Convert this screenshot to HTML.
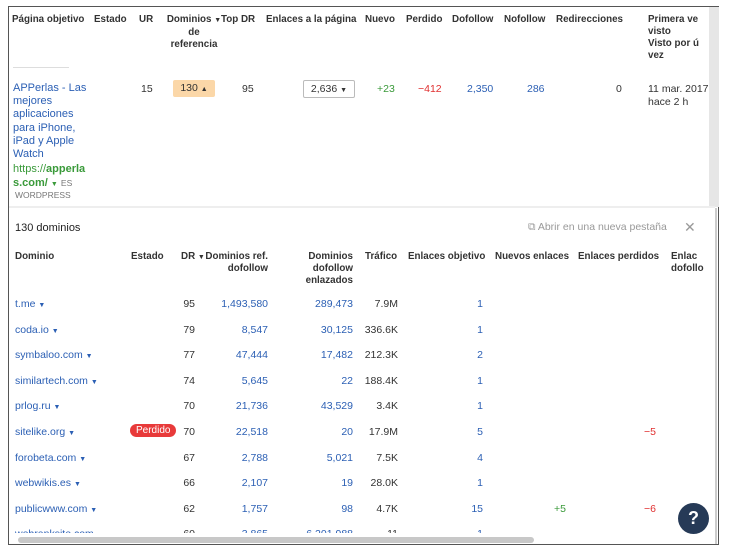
<!DOCTYPE html>
<html><head><meta charset="utf-8"><style>
body{margin:0;width:730px;height:554px;background:#fff;font-family:"Liberation Sans",sans-serif;font-size:10.5px;color:#333;position:relative;overflow:hidden}
.a{position:absolute;white-space:nowrap}
.b{font-weight:bold;color:#333;font-size:9.8px}
.r{text-align:right}
.c{text-align:center}
.bl{color:#2b5fb4}
.gr{color:#3a9a3a}
.rd{color:#e03030}
.car{font-size:7px}
</style></head><body>
<div class="a" style="left:8px;top:6px;width:711px;height:539px;border:1px solid #555;box-sizing:border-box"></div>
<div class="a" style="left:709px;top:7px;width:10px;height:200px;background:#e6e6e6"></div>
<div class="a b" style="left:12px;top:14px">Página objetivo</div>
<div class="a b" style="left:94px;top:14px">Estado</div>
<div class="a b" style="left:139px;top:14px">UR</div>
<div class="a b c" style="left:163px;top:14px;width:62px;line-height:12px">Dominios <span class="car">▼</span><br>de<br>referencia</div>
<div class="a b" style="left:221px;top:14px">Top DR</div>
<div class="a b" style="left:266px;top:14px">Enlaces a la página</div>
<div class="a b" style="left:365px;top:14px">Nuevo</div>
<div class="a b" style="left:406px;top:14px">Perdido</div>
<div class="a b" style="left:452px;top:14px">Dofollow</div>
<div class="a b" style="left:504px;top:14px">Nofollow</div>
<div class="a b" style="left:556px;top:14px">Redirecciones</div>
<div class="a b" style="left:648px;top:14px;line-height:12px">Primera ve<br>visto<br>Visto por ú<br>vez</div>
<div class="a" style="left:13px;top:67px;width:56px;height:1px;background:#ddd"></div>
<div class="a bl" style="left:13px;top:82px;line-height:13.2px;font-size:11px">APPerlas - Las<br>mejores<br>aplicaciones<br>para iPhone,<br>iPad y Apple<br>Watch</div>
<div class="a gr" style="left:13px;top:162px;line-height:14px;font-size:11px">https://<b>apperla</b><br><b>s.com/</b> <span class="car">▼</span> <span style="color:#777;font-size:8.5px">ES</span></div>
<div class="a" style="left:15px;top:190px;color:#777;font-size:8.5px">WORDPRESS</div>
<div class="a" style="left:141px;top:83px">15</div>
<div class="a" style="left:173px;top:80px;width:42px;height:17px;background:#fbd7a8;border-radius:2px;line-height:17px;text-align:center">130 <span class="car">▲</span></div>
<div class="a" style="left:242px;top:83px">95</div>
<div class="a" style="left:303px;top:80px;width:50px;height:16px;border:1px solid #bbb;border-radius:2px;line-height:16px;text-align:center">2,636 <span class="car">▼</span></div>
<div class="a gr" style="left:377px;top:83px">+23</div>
<div class="a rd" style="left:418px;top:83px">−412</div>
<div class="a bl" style="left:467px;top:83px">2,350</div>
<div class="a bl" style="left:527px;top:83px">286</div>
<div class="a" style="left:616px;top:83px">0</div>
<div class="a" style="left:648px;top:83px;line-height:13px">11 mar. 2017<br>hace 2 h</div>
<div class="a" style="left:9px;top:206px;width:706px;height:2px;background:#eee"></div>
<div class="a" style="left:715px;top:208px;width:2px;height:336px;background:#ccc"></div>
<div class="a" style="left:15px;top:222px;font-size:11px;color:#222">130 dominios</div>
<div class="a" style="left:528px;top:221px;color:#999;font-size:10.5px">⧉ Abrir en una nueva pestaña</div>
<div class="a" style="left:684px;top:219px;color:#999;font-size:14px">✕</div>
<div class="a b" style="left:15px;top:251px">Dominio</div>
<div class="a b" style="left:131px;top:251px">Estado</div>
<div class="a b" style="left:181px;top:251px">DR <span class="car">▼</span></div>
<div class="a b r" style="left:200px;top:251px;width:68px;line-height:12px">Dominios ref.<br>dofollow</div>
<div class="a b r" style="left:290px;top:251px;width:63px;line-height:12px">Dominios<br>dofollow<br>enlazados</div>
<div class="a b" style="left:365px;top:251px">Tráfico</div>
<div class="a b" style="left:408px;top:251px">Enlaces objetivo</div>
<div class="a b" style="left:495px;top:251px">Nuevos enlaces</div>
<div class="a b" style="left:578px;top:251px">Enlaces perdidos</div>
<div class="a b" style="left:671px;top:251px;line-height:12px">Enlac<br>dofollo</div>
<div id="rows"></div>
<script>
var d=[["t.me","",95,"1,493,580","289,473","7.9M",1,"",""],["coda.io","",79,"8,547","30,125","336.6K",1,"",""],["symbaloo.com","",77,"47,444","17,482","212.3K",2,"",""],["similartech.com","",74,"5,645","22","188.4K",1,"",""],["prlog.ru","",70,"21,736","43,529","3.4K",1,"",""],["sitelike.org","P",70,"22,518","20","17.9M",5,"","−5"],["forobeta.com","",67,"2,788","5,021","7.5K",4,"",""],["webwikis.es","",66,"2,107","19","28.0K",1,"",""],["publicwww.com","",62,"1,757","98","4.7K",15,"+5","−6"],["webranksite.com","",60,"3,865","6,201,988","11",1,"",""]];
var h="";
d.forEach(function(r,i){var t=298+i*25.6;
h+='<div class="a bl" style="left:15px;top:'+t+'px">'+r[0]+' <span class="car">▼</span></div>';
if(r[1])h+='<div class="a" style="left:130px;top:'+(t-2)+'px;background:#e83a3a;color:#fff;border-radius:8px;padding:1px 6px;font-size:10px">Perdido</div>';
h+='<div class="a r" style="left:170px;top:'+t+'px;width:25px">'+r[2]+'</div>';
h+='<div class="a r bl" style="left:200px;top:'+t+'px;width:68px">'+r[3]+'</div>';
h+='<div class="a r bl" style="left:280px;top:'+t+'px;width:73px">'+r[4]+'</div>';
h+='<div class="a r" style="left:355px;top:'+t+'px;width:43px">'+r[5]+'</div>';
h+='<div class="a r bl" style="left:440px;top:'+t+'px;width:43px">'+r[6]+'</div>';
if(r[7])h+='<div class="a r gr" style="left:530px;top:'+t+'px;width:36px">'+r[7]+'</div>';
if(r[8])h+='<div class="a r rd" style="left:620px;top:'+t+'px;width:36px">'+r[8]+'</div>';
});
document.getElementById("rows").innerHTML=h;
</script>
<div class="a" style="left:9px;top:533px;width:700px;height:11px;background:#fff"></div>
<div class="a" style="left:18px;top:537px;width:516px;height:6px;background:#c8c8c8;border-radius:3px"></div>
<div class="a" style="left:678px;top:503px;width:31px;height:31px;border-radius:50%;background:#263a57;color:#fff;font-size:18px;font-weight:bold;text-align:center;line-height:31px">?</div>
</body></html>
